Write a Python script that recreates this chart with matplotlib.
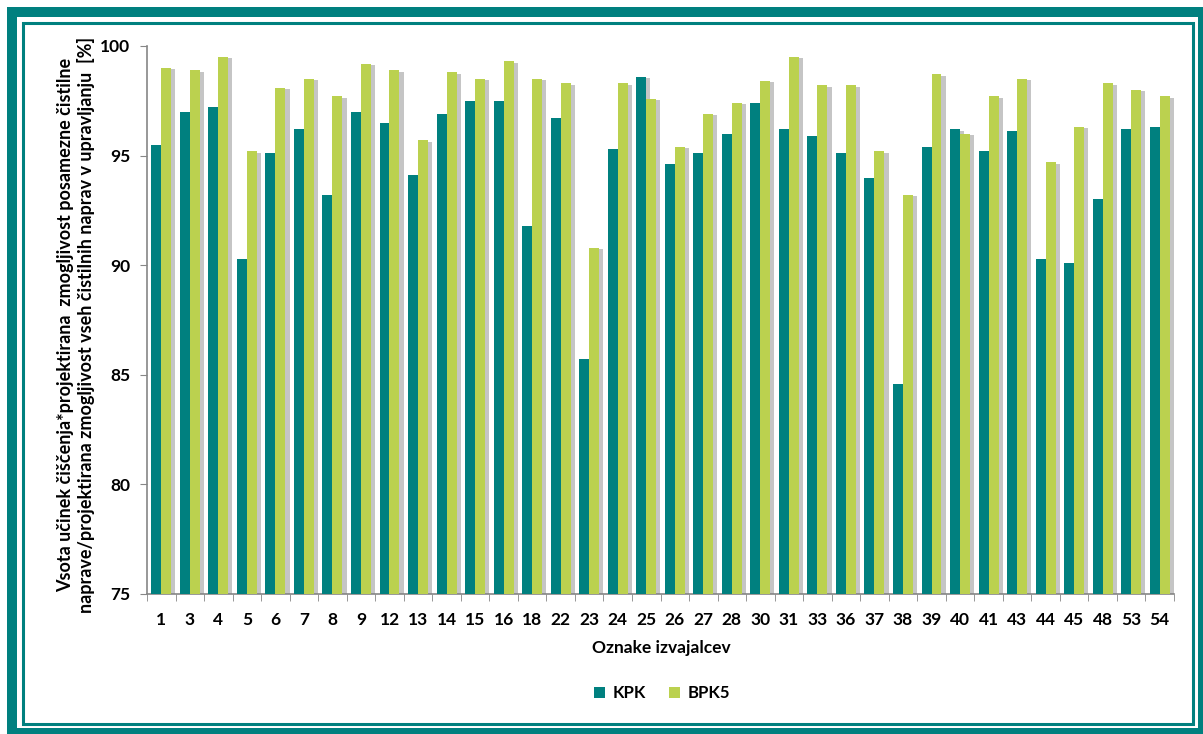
import matplotlib
matplotlib.use('Agg')
import matplotlib.pyplot as plt
import matplotlib.patheffects as pe
from matplotlib.patches import Rectangle, Patch
import numpy as np

# Producer labels (x categories)
izvajalci = ['1', '3', '4', '5', '6', '7', '8', '9', '12', '13', '14', '15', '16', '18',
             '22', '23', '24', '25', '26', '27', '28', '30', '31', '33', '36', '37', '38',
             '39', '40', '41', '43', '44', '45', '48', '53', '54']

# Values [%]
kpk = [95.5, 97.0, 97.2, 90.3, 95.1, 96.2, 93.2, 97.0, 96.5, 94.1, 96.9, 97.5, 97.5, 91.8,
       96.7, 85.7, 95.3, 98.6, 94.6, 95.1, 96.0, 97.4, 96.2, 95.9, 95.1, 94.0, 84.6,
       95.4, 96.2, 95.2, 96.1, 90.3, 90.1, 93.0, 96.2, 96.3]
bpk5 = [99.0, 98.9, 99.5, 95.2, 98.1, 98.5, 97.7, 99.2, 98.9, 95.7, 98.8, 98.5, 99.3, 98.5,
        98.3, 90.8, 98.3, 97.6, 95.4, 96.9, 97.4, 98.4, 99.5, 98.2, 98.2, 95.2, 93.2,
        98.7, 96.0, 97.7, 98.5, 94.7, 96.3, 98.3, 98.0, 97.7]

TEAL = '#00807f'
GREEN = '#bbd14f'
AXIS_GRAY = '#868686'

plt.rcParams['font.family'] = ['Lato', 'DejaVu Sans']

W, H = 1203, 734
fig = plt.figure(figsize=(W / 100, H / 100), dpi=100)
ax = fig.add_axes([147 / W, 1 - 594 / H, (1174 - 147) / W, (594 - 46) / H])

x = np.arange(len(izvajalci))
bw = 0.35
shadow = [pe.SimplePatchShadow(offset=(3, -1), shadow_rgbFace='#7f7f7f', alpha=0.45),
          pe.Normal()]
bars1 = ax.bar(x - bw / 2, kpk, bw, color=TEAL, zorder=3)
bars2 = ax.bar(x + bw / 2, bpk5, bw, color=GREEN, zorder=3)
for b in list(bars1) + list(bars2):
    b.set_path_effects(shadow)

ax.set_ylim(75, 100)
ax.set_xlim(-0.5, len(izvajalci) - 0.5)
ax.set_yticks([75, 80, 85, 90, 95, 100])
ax.set_xticks(x)
ax.set_xticklabels(izvajalci, fontsize=12.5, fontweight='bold')
ax.set_xticks(np.arange(-0.5, len(izvajalci)), minor=True)
ax.tick_params(axis='x', which='major', length=0, pad=13)
ax.tick_params(axis='x', which='minor', length=5, color=AXIS_GRAY, direction='out')
ax.tick_params(axis='y', length=5, color=AXIS_GRAY, pad=7, labelsize=12.5)
for lab in ax.get_yticklabels():
    lab.set_fontweight('bold')

for s in ['top', 'right']:
    ax.spines[s].set_visible(False)
for s in ['left', 'bottom']:
    ax.spines[s].set_color(AXIS_GRAY)
    ax.spines[s].set_linewidth(1.2)

fig.text(76 / W, 1 - 325 / H,
         'Vsota učinek čiščenja*projektirana  zmogljivost posamezne čistilne\n'
         'naprave/projektirana zmogljivost vseh čistilnih naprav v upravljanju  [%]',
         rotation=90, ha='center', va='center', multialignment='center',
         fontsize=13, fontweight='bold', linespacing=1.15)

fig.text(661 / W, 1 - 648 / H, 'Oznake izvajalcev', ha='center', va='center',
         fontsize=12.5, fontweight='bold')

handles = [Patch(facecolor=TEAL), Patch(facecolor=GREEN)]
fig.legend(handles=handles, labels=['KPK', 'BPK5'], loc='center',
           bbox_to_anchor=(662 / W, 1 - 693 / H), ncol=2, frameon=False,
           prop={'weight': 'bold', 'size': 12}, handlelength=0.65, handleheight=0.65,
           columnspacing=1.4, handletextpad=0.45)

# double teal frame around the chart
fig.patches.append(Rectangle((12 / W, 1 / H), (1203 - 12) / W, (733 - 12) / H,
                             transform=fig.transFigure, fill=False,
                             edgecolor=TEAL, linewidth=7.2))
fig.patches.append(Rectangle((22.5 / W, 1 - 724 / H), (1193 - 22.5) / W, (724 - 22.5) / H,
                             transform=fig.transFigure, fill=False,
                             edgecolor=TEAL, linewidth=2.2))

fig.savefig('out.png', dpi=100)
